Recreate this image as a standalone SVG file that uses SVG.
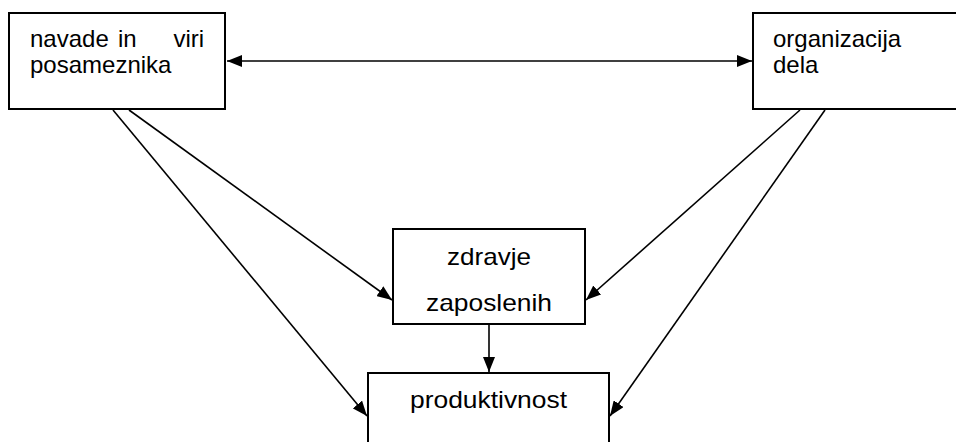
<svg xmlns="http://www.w3.org/2000/svg" width="956" height="442" viewBox="0 0 956 442">
  <style>
    .box { fill: #ffffff; stroke: #000000; stroke-width: 2; }
    .lbl { font-family: "Liberation Sans", Arial, sans-serif; font-size: 24px; fill: #000000; }
    .mid { text-anchor: middle; }
    .link { stroke: #000000; stroke-width: 1.6; fill: none; marker-end: url(#head); }
  </style>
  <defs>
    <marker id="head" viewBox="0 0 15 12" refX="15" refY="6" markerWidth="15" markerHeight="12" markerUnits="userSpaceOnUse" orient="auto-start-reverse">
      <path d="M0,0 L15,6 L0,12 Z" fill="#000000"/>
    </marker>
  </defs>

  <rect width="956" height="442" fill="#ffffff"/>

  <g id="node-navade">
    <rect class="box" x="9" y="13" width="216" height="96"/>
    <text class="lbl" y="47"><tspan x="30">navade</tspan><tspan x="118">in</tspan><tspan x="173.5">viri</tspan></text>
    <text class="lbl" x="30" y="73">posameznika</text>
  </g>

  <g id="node-organizacija">
    <rect class="box" x="753" y="13" width="220" height="96"/>
    <text class="lbl" x="773" y="47">organizacija</text>
    <text class="lbl" x="773" y="73">dela</text>
  </g>

  <g id="node-zdravje">
    <rect class="box" x="393" y="229" width="192" height="95"/>
    <text class="lbl mid" x="489" y="265" textLength="84" lengthAdjust="spacingAndGlyphs">zdravje</text>
    <text class="lbl mid" x="489" y="311" textLength="126" lengthAdjust="spacingAndGlyphs">zaposlenih</text>
  </g>

  <g id="node-produktivnost">
    <rect class="box" x="368" y="373" width="241" height="80"/>
    <text class="lbl mid" x="488.5" y="408" textLength="157" lengthAdjust="spacingAndGlyphs">produktivnost</text>
  </g>

  <g id="connectors">
    <line class="link" x1="227" y1="61" x2="752" y2="61" marker-start="url(#head)"/>
    <line class="link" x1="129" y1="110" x2="392" y2="300"/>
    <line class="link" x1="113" y1="110" x2="367" y2="416"/>
    <line class="link" x1="800" y1="110" x2="586" y2="300"/>
    <line class="link" x1="825" y1="110" x2="610" y2="416"/>
    <line class="link" x1="489" y1="325" x2="489" y2="372"/>
  </g>
</svg>
